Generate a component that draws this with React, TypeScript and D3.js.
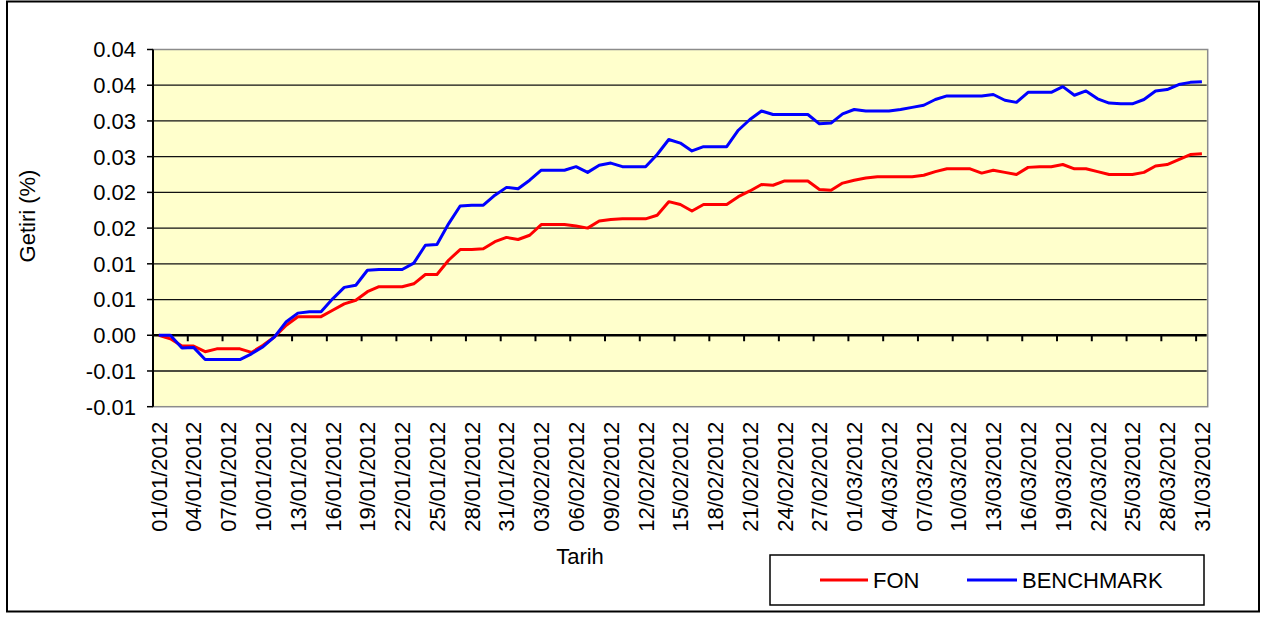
import React, { useRef, useEffect } from "react";
import * as d3 from "d3";

// daily cumulative returns, 01/01/2012 - 31/03/2012
const fon = [
  0, -0.0005, -0.0015, -0.0015, -0.0023, -0.0019, -0.0019, -0.0019, -0.0024, -0.0014,
  -0.0002, 0.0014, 0.0026, 0.0026, 0.0026, 0.0035, 0.0044, 0.0049, 0.0061, 0.0068,
  0.0068, 0.0068, 0.0072, 0.0085, 0.0085, 0.0105, 0.012, 0.012, 0.0121, 0.0131,
  0.0137, 0.0134, 0.014, 0.0155, 0.0155, 0.0155, 0.0153, 0.015, 0.016, 0.0162,
  0.0163, 0.0163, 0.0163, 0.0168, 0.0187, 0.0183, 0.0174, 0.0183, 0.0183, 0.0183,
  0.0194, 0.0202, 0.0211, 0.021, 0.0216, 0.0216, 0.0216, 0.0204, 0.0203, 0.0213,
  0.0217, 0.022, 0.0222, 0.0222, 0.0222, 0.0222, 0.0224, 0.0229, 0.0233, 0.0233,
  0.0233, 0.0227, 0.0231, 0.0228, 0.0225, 0.0235, 0.0236, 0.0236, 0.0239, 0.0233,
  0.0233, 0.0229, 0.0225, 0.0225, 0.0225, 0.0228, 0.0237, 0.0239, 0.0246, 0.0253,
  0.0254,
];

const benchmark = [
  0, 0, -0.0018, -0.0017, -0.0034, -0.0034, -0.0034, -0.0034, -0.0026, -0.0016,
  -0.0002, 0.0019, 0.0031, 0.0033, 0.0033, 0.0051, 0.0067, 0.007, 0.0091, 0.0092,
  0.0092, 0.0092, 0.0101, 0.0126, 0.0127, 0.0156, 0.0181, 0.0182, 0.0182, 0.0196,
  0.0207, 0.0205, 0.0217, 0.0231, 0.0231, 0.0231, 0.0236, 0.0228, 0.0238, 0.0241,
  0.0236, 0.0236, 0.0236, 0.0253, 0.0274, 0.0269, 0.0258, 0.0264, 0.0264, 0.0264,
  0.0287, 0.0302, 0.0314, 0.0309, 0.0309, 0.0309, 0.0309, 0.0296, 0.0297, 0.031,
  0.0316, 0.0314, 0.0314, 0.0314, 0.0316, 0.0319, 0.0322, 0.033, 0.0335, 0.0335,
  0.0335, 0.0335, 0.0337, 0.0329, 0.0326, 0.034, 0.034, 0.034, 0.0348, 0.0336,
  0.0342, 0.0331, 0.0325, 0.0324, 0.0324, 0.033, 0.0342, 0.0344, 0.0351, 0.0354,
  0.0355,
];

const dates = d3.timeDay.range(new Date(2012, 0, 1), new Date(2012, 3, 1));
const fmtDate = d3.timeFormat("%d/%m/%Y");

const yTicks = [-0.01, -0.005, 0, 0.005, 0.01, 0.015, 0.02, 0.025, 0.03, 0.035, 0.04];
const yTickLabels = ["-0.01", "-0.01", "0.00", "0.01", "0.01", "0.02", "0.02", "0.03", "0.03", "0.04", "0.04"];

const series = [
  { name: "FON", values: fon, color: "#ff0000" },
  { name: "BENCHMARK", values: benchmark, color: "#0000ff" },
];

const FONT = "'Liberation Sans', Arial, sans-serif";

export default function App() {
  const ref = useRef<SVGSVGElement>(null);

  useEffect(() => {
    const svg = d3.select(ref.current);
    svg.selectAll("*").remove();

    const plot = { left: 153, top: 49.5, right: 1207.7, bottom: 406.7 };

    const x = d3
      .scaleBand<number>()
      .domain(d3.range(dates.length))
      .range([plot.left, plot.right])
      .padding(0);
    const bw = x.bandwidth();
    const cx = (i: number) => (x(i) as number) + bw / 2;

    const y = d3.scaleLinear().domain([-0.01, 0.04]).range([plot.bottom, plot.top]);

    // outer frame
    svg
      .append("rect")
      .attr("x", 7)
      .attr("y", 1.5)
      .attr("width", 1252)
      .attr("height", 610)
      .attr("fill", "#fff")
      .attr("stroke", "#000")
      .attr("stroke-width", 2);

    // plot area
    svg
      .append("rect")
      .attr("x", plot.left)
      .attr("y", plot.top)
      .attr("width", plot.right - plot.left)
      .attr("height", plot.bottom - plot.top)
      .attr("fill", "#ffffcc")
      .attr("stroke", "#8c8c8c")
      .attr("stroke-width", 1.5);

    // gridlines
    svg
      .append("g")
      .selectAll("line")
      .data(yTicks.filter((t) => t !== 0.04 && t !== -0.01 && t !== 0))
      .enter()
      .append("line")
      .attr("x1", plot.left)
      .attr("x2", plot.right - 1)
      .attr("y1", (d) => y(d))
      .attr("y2", (d) => y(d))
      .attr("stroke", "#111")
      .attr("stroke-width", 1.3);

    // y axis
    svg
      .append("line")
      .attr("x1", plot.left)
      .attr("x2", plot.left)
      .attr("y1", plot.top)
      .attr("y2", plot.bottom)
      .attr("stroke", "#000")
      .attr("stroke-width", 2);

    svg
      .append("g")
      .selectAll("line")
      .data(yTicks)
      .enter()
      .append("line")
      .attr("x1", plot.left - 6)
      .attr("x2", plot.left)
      .attr("y1", (d) => y(d))
      .attr("y2", (d) => y(d))
      .attr("stroke", "#000")
      .attr("stroke-width", 1.5);

    svg
      .append("g")
      .selectAll("text")
      .data(yTicks)
      .enter()
      .append("text")
      .attr("x", 136)
      .attr("y", (d) => y(d))
      .attr("dy", "0.36em")
      .attr("text-anchor", "end")
      .style("font-family", FONT)
      .style("font-size", "22px")
      .attr("fill", "#000")
      .text((d, i) => yTickLabels[i]);

    // x axis at zero
    svg
      .append("line")
      .attr("x1", plot.left)
      .attr("x2", plot.right - 1)
      .attr("y1", y(0))
      .attr("y2", y(0))
      .attr("stroke", "#000")
      .attr("stroke-width", 2.5);

    const tickIdx = d3.range(0, dates.length, 3);
    svg
      .append("g")
      .selectAll("line")
      .data(tickIdx)
      .enter()
      .append("line")
      .attr("x1", (d) => x(d) as number)
      .attr("x2", (d) => x(d) as number)
      .attr("y1", y(0))
      .attr("y2", y(0) + 6)
      .attr("stroke", "#000")
      .attr("stroke-width", 2);

    svg
      .append("g")
      .selectAll("text")
      .data(tickIdx)
      .enter()
      .append("text")
      .attr("transform", (d) => `translate(${cx(d)},${plot.bottom + 15}) rotate(-90)`)
      .attr("dy", "0.36em")
      .attr("text-anchor", "end")
      .style("font-family", FONT)
      .style("font-size", "22px")
      .attr("fill", "#000")
      .text((d) => fmtDate(dates[d]));

    // series
    const line = d3
      .line<number>()
      .x((d, i) => cx(i))
      .y((d) => y(d));

    series.forEach((s) => {
      svg
        .append("path")
        .datum(s.values)
        .attr("d", line)
        .attr("fill", "none")
        .attr("stroke", s.color)
        .attr("stroke-width", 3)
        .attr("stroke-linejoin", "round");
    });

    // axis titles
    svg
      .append("text")
      .attr("x", 580)
      .attr("y", 564)
      .attr("text-anchor", "middle")
      .style("font-family", FONT)
      .style("font-size", "22px")
      .attr("fill", "#000")
      .text("Tarih");

    svg
      .append("text")
      .attr("transform", "translate(35,216) rotate(-90)")
      .attr("text-anchor", "middle")
      .style("font-family", FONT)
      .style("font-size", "22px")
      .attr("fill", "#000")
      .text("Getiri (%)");

    // legend
    const legend = svg.append("g");
    legend
      .append("rect")
      .attr("x", 770)
      .attr("y", 555)
      .attr("width", 434)
      .attr("height", 50)
      .attr("fill", "#fff")
      .attr("stroke", "#000")
      .attr("stroke-width", 1.5);

    const legendItems = [
      { s: series[0], x0: 820, x1: 868, tx: 873 },
      { s: series[1], x0: 967, x1: 1017, tx: 1022 },
    ];
    legendItems.forEach((it) => {
      legend
        .append("line")
        .attr("x1", it.x0)
        .attr("x2", it.x1)
        .attr("y1", 580)
        .attr("y2", 580)
        .attr("stroke", it.s.color)
        .attr("stroke-width", 3);
      legend
        .append("text")
        .attr("x", it.tx)
        .attr("y", 588)
        .style("font-family", FONT)
        .style("font-size", "22px")
        .attr("fill", "#000")
        .text(it.s.name);
    });
  }, []);

  return (
    <svg
      ref={ref}
      width={1266}
      height={617}
      style={{ position: "absolute", left: 0, top: 0, background: "#fff" }}
    />
  );
}
